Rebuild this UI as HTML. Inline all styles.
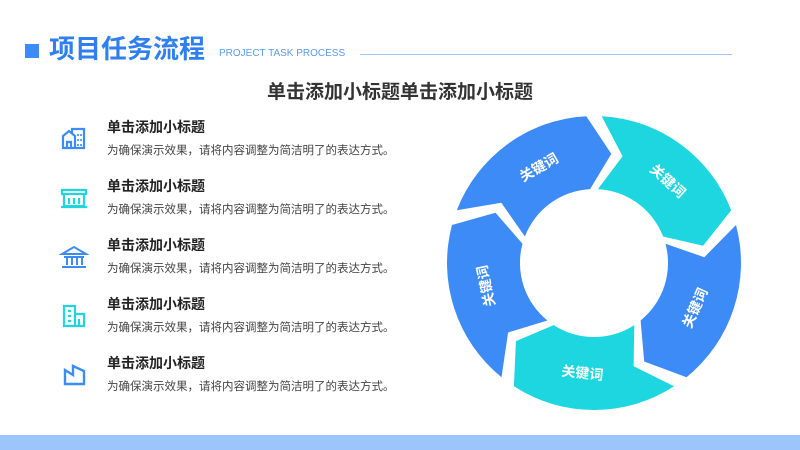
<!DOCTYPE html>
<html><head><meta charset="utf-8">
<style>
body{margin:0;width:800px;height:450px;overflow:hidden;background:#fff;position:relative;font-family:"Liberation Sans","Noto Sans CJK SC",sans-serif;}
.a{position:absolute;white-space:nowrap}
.t{font-size:14px;font-weight:bold;color:#222}
.d{font-size:11.5px;color:#444}
</style></head><body>
<div class="a" style="left:25px;top:44px;width:14px;height:14px;background:#3d8bf7"></div>
<div class="a" style="left:49px;top:33px;font-size:26px;font-weight:bold;color:#2f7ff0;line-height:32px">项目任务流程</div>
<div class="a" style="left:219px;top:48px;font-size:10px;color:#5a9be8">PROJECT TASK PROCESS</div>
<div class="a" style="left:360px;top:54px;width:372px;height:1px;background:#9cc4f5"></div>
<div class="a" style="left:0;width:800px;top:77px;text-align:center;font-size:19px;font-weight:bold;color:#333">单击添加小标题单击添加小标题</div>

<div class="a t" style="left:107px;top:117px">单击添加小标题</div><div class="a d" style="left:107px;top:142px">为确保演示效果，请将内容调整为简洁明了的表达方式。</div>
<div class="a t" style="left:107px;top:176px">单击添加小标题</div><div class="a d" style="left:107px;top:201px">为确保演示效果，请将内容调整为简洁明了的表达方式。</div>
<div class="a t" style="left:107px;top:235px">单击添加小标题</div><div class="a d" style="left:107px;top:260px">为确保演示效果，请将内容调整为简洁明了的表达方式。</div>
<div class="a t" style="left:107px;top:294px">单击添加小标题</div><div class="a d" style="left:107px;top:319px">为确保演示效果，请将内容调整为简洁明了的表达方式。</div>
<div class="a t" style="left:107px;top:353px">单击添加小标题</div><div class="a d" style="left:107px;top:378px">为确保演示效果，请将内容调整为简洁明了的表达方式。</div>

<svg class="a" style="left:0;top:0" width="800" height="450">
 <g fill="none" stroke="#3d8bf7" stroke-width="2.2">
  <path d="M63 148 V136 L69 131 L75 136 V148 Z M75 148 H84 V129 H72 V133"/>
  <path d="M67 148 V142 H71 V148"/>
  <g stroke="#3d8bf7" stroke-width="1.6"><path d="M78 134 v2 M81 134 v2 M78 139 v2 M81 139 v2 M78 144 v2 M81 144 v2"/></g>
 </g>
 <g fill="none" stroke="#1fd6de" stroke-width="2.2">
  <path d="M62 190 H86 V194 H62 Z M64 194 V206 H84 V194 M61 207 H87"/>
  <path d="M69 198 V204 M74 198 V204 M79 198 V204"/>
 </g>
 <g fill="none" stroke="#3d8bf7" stroke-width="2">
  <path d="M62 254 L74 247 L86 254 Z M64 257 H84 M62 267 H86"/>
  <path d="M67 258 V265 M72 258 V265 M77 258 V265 M82 258 V265"/>
 </g>
 <g fill="none" stroke="#1fd6de" stroke-width="2.2">
  <path d="M64 326 V306 H75 V326 Z M75 314 H84 V326 H64"/>
  <path d="M68 311 h3 M68 316 h3 M68 321 h3 M79 319 V326"/>
 </g>
 <g fill="none" stroke="#3d8bf7" stroke-width="2.4">
  <path d="M65 384 V370 L73 375 V366 L84 371 V384 Z"/>
 </g>
 <g id="ring"></g>
</svg>
<div class="a" style="left:0;top:435px;width:800px;height:15px;background:#9cc6fb"></div>
<script>
var cx=594,cy=263,R=147,r=74,gap=6,tip=12,N=5;
var cols=["#3d8bf7","#1dd6e0","#3d8bf7","#1dd6e0","#3d8bf7"];
var starts=[198,270,342,54,126];
function P(rad,a){a=a*Math.PI/180;return (cx+rad*Math.cos(a)).toFixed(1)+" "+(cy+rad*Math.sin(a)).toFixed(1);}
var h="";var m=(R+r)/2;
for(var i=0;i<N;i++){
 var a0=starts[i]+gap/2,a1=starts[i]+72-gap/2;
 var d="M"+P(R,a0)+" A"+R+" "+R+" 0 0 1 "+P(R,a1)+" L"+P(m,a1+tip)+" L"+P(r,a1)+" A"+r+" "+r+" 0 0 0 "+P(r,a0)+" L"+P(m,a0+tip)+" Z";
 h+='<path d="'+d+'" fill="'+cols[i]+'"/>';
 var mid=starts[i]+36+tip/2,rot=mid+90;
 while(rot>180)rot-=360;while(rot<=-180)rot+=360;
 if(rot>90)rot-=180;if(rot<-110)rot+=180;
 var x=cx+m*Math.cos(mid*Math.PI/180),y=cy+m*Math.sin(mid*Math.PI/180);
 h+='<text x="'+x.toFixed(1)+'" y="'+y.toFixed(1)+'" transform="rotate('+rot.toFixed(1)+' '+x.toFixed(1)+' '+y.toFixed(1)+')" text-anchor="middle" dominant-baseline="central" fill="#fff" font-size="14" font-weight="bold" font-family="Liberation Sans, Noto Sans CJK SC, sans-serif">关键词</text>';
}
document.getElementById("ring").innerHTML=h;
</script>
</body></html>
